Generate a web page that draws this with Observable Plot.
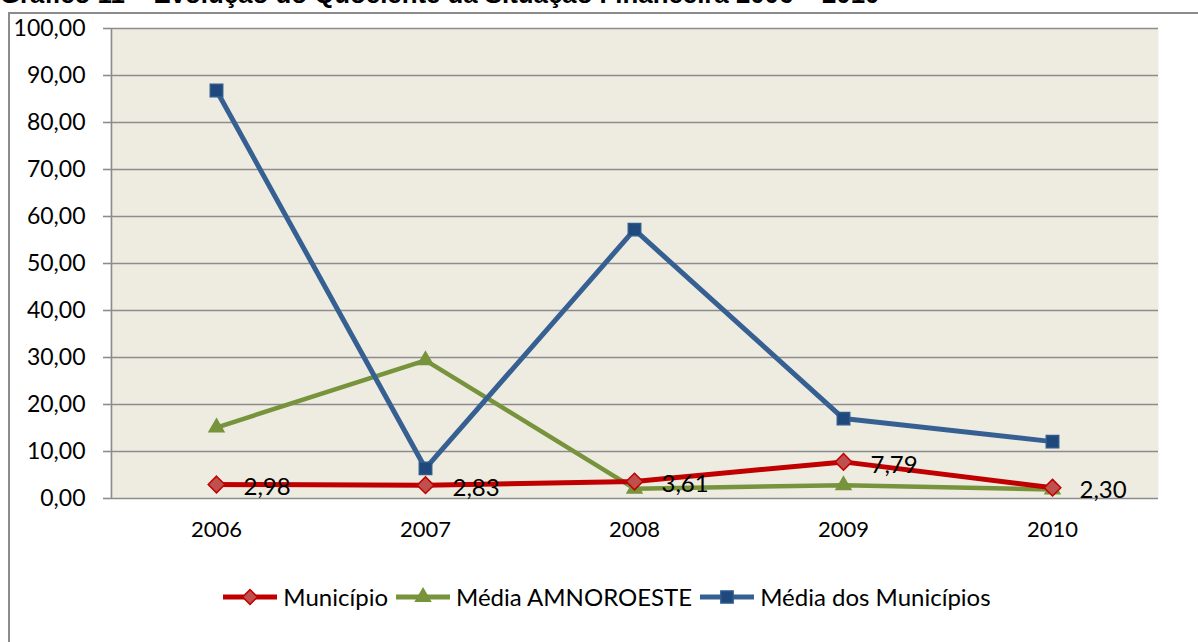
<!DOCTYPE html>
<html>
<head>
<meta charset="utf-8">
<script src="https://cdn.jsdelivr.net/npm/d3@7"></script>
<script src="https://cdn.jsdelivr.net/npm/@observablehq/plot@0.6"></script>
<style>
  html, body { margin: 0; padding: 0; background: #fff; overflow: hidden; }
  body { width: 1198px; height: 642px; position: relative; font-family: Lato, "Open Sans", sans-serif; }
  #title { position: absolute; left: 0; top: 0; white-space: nowrap; font-family: "Liberation Sans", Arial, sans-serif; font-weight: bold; color: #000; }
  #frame { position: absolute; left: 8px; top: 12px; width: 1300px; height: 800px; border-left: 2px solid #8c8c8c; border-top: 2px solid #8c8c8c; box-sizing: border-box; }
  #chart { position: absolute; left: 0; top: 0; }
  #legend { position: absolute; top: 582px; left: 0; width: 1218px; display: flex; justify-content: center; align-items: center; font-size: 24px; color: #000; }
  .item { display: flex; align-items: center; margin: 0 6px 0 0; }
  .item svg { margin-right: 4px; }
</style>
</head>
<body>
<div id="title"></div>
<div id="frame"></div>
<div id="chart"></div>
<div id="legend"></div>
<script>
const titleText = "Gráfico 11 – Evolução do Quociente da Situação Financeira 2006 – 2010";
const years = ["2006", "2007", "2008", "2009", "2010"];
const seriesNames = ["Município", "Média AMNOROESTE", "Média dos Municípios"];
const municipio = [2.98, 2.83, 3.61, 7.79, 2.30];
const amnoroeste = [15.1, 29.4, 2.1, 2.8, 1.9];
const mediaMunicipios = [86.8, 6.4, 57.2, 17.0, 12.1];
const yTicks = [0, 10, 20, 30, 40, 50, 60, 70, 80, 90, 100];

const lineColors = ["#C00000", "#77933C", "#376092"];
const markFill = ["#C0504D", "#77933C", "#1F497D"];
const markStroke = ["#C00000", "#77933C", "#2F5A8C"];
const symbols = ["diamond2", "triangle", "square"];
const markR = [7.5, 5.5, 7];

const allVals = [municipio, amnoroeste, mediaMunicipios];
const data = [];
allVals.forEach((vals, s) => vals.forEach((v, i) => data.push({series: seriesNames[s], s, year: years[i], value: v})));

const fmt = d => d.toFixed(2).replace(".", ",");

// title: fit to the reference width
const t = document.getElementById("title");
t.textContent = titleText;
t.style.fontSize = "20px";
const w20 = t.getBoundingClientRect().width;
const fs = 20 * 880 / w20;
t.style.fontSize = fs + "px";
t.style.lineHeight = "1";
t.style.top = (5.5 - fs * 0.9) + "px";

const marks = [
  Plot.frame({fill: "#EEEBE1", stroke: null}),
  Plot.gridY(yTicks, {stroke: "#8c8c8c", strokeOpacity: 1, strokeWidth: 1.6}),
  Plot.ruleX([years[0]], {stroke: "#8c8c8c", strokeWidth: 1.6, dx: -105, y1: 0, y2: 100}),
  Plot.axisY(yTicks, {tickSize: 7, tickPadding: 18, tickFormat: fmt, fontSize: 23, stroke: "#8c8c8c", strokeWidth: 1.6, strokeOpacity: 1}),
  Plot.axisX({tickSize: 0, tickPadding: 23, fontSize: 22}),
];
[1, 2, 0].forEach(s => {
  const d = data.filter(e => e.s === s);
  marks.push(Plot.line(d, {x: "year", y: "value", stroke: lineColors[s], strokeWidth: s === 1 ? 4.5 : 5}));
  marks.push(Plot.dot(d, {x: "year", y: "value", symbol: () => symbols[s], r: markR[s], fill: markFill[s], stroke: markStroke[s], strokeWidth: 1.5}));
});
marks.push(Plot.text(data.filter(e => e.s === 0), {x: "year", y: "value", text: e => fmt(e.value), textAnchor: "start", dx: 27, dy: 3, fontSize: 24, fill: "#000"}));

const plot = Plot.plot({
  width: 1198,
  height: 642,
  marginLeft: 110,
  marginRight: 40,
  marginTop: 28,
  marginBottom: 144,
  style: {background: "transparent", fontFamily: "Lato, 'Open Sans', sans-serif", color: "#000", overflow: "visible"},
  x: {type: "point", domain: years, padding: 0.5, label: null},
  y: {domain: [0, 100], label: null},
  marks
});
document.getElementById("chart").appendChild(plot);

// legend
const leg = document.getElementById("legend");
seriesNames.forEach((name, s) => {
  const it = document.createElement("div");
  it.className = "item";
  const sym = d3.symbol().type(s === 1 ? d3.symbolTriangle : d3.symbolSquare).size(s === 0 ? 110 : s === 1 ? 95 : 150)();
  it.innerHTML = `<svg width="58" height="24"><line x1="2" x2="56" y1="12" y2="12" stroke="${lineColors[s]}" stroke-width="5"/>` +
    `<path d="${sym}" transform="translate(29,12) rotate(${s === 0 ? 45 : 0})" fill="${markFill[s]}" stroke="${markStroke[s]}" stroke-width="1.5"/></svg><span>${name}</span>`;
  leg.appendChild(it);
});
</script>
</body>
</html>
